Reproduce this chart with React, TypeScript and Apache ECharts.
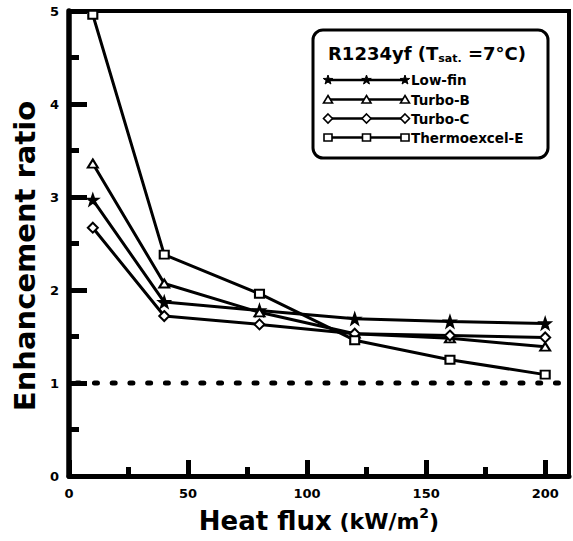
import React, { useEffect, useRef } from 'react';
import * as echarts from 'echarts';

// ---------- data ----------
const heatFlux = [10, 40, 80, 120, 160, 200];
const lowFin = [2.97, 1.87, 1.78, 1.69, 1.66, 1.64];
const turboB = [3.36, 2.07, 1.76, 1.53, 1.48, 1.39];
const turboC = [2.67, 1.72, 1.63, 1.53, 1.51, 1.49];
const thermoexcelE = [4.96, 2.38, 1.96, 1.46, 1.25, 1.09];
const seriesNames = ['Low-fin', 'Turbo-B', 'Turbo-C', 'Thermoexcel-E'];
const xTickValues = [0, 50, 100, 150, 200];
const xMinorTickValues = [25, 75, 125, 175];
const referenceRatio = 1;
const xRange = [0, 210];
const yRange = [0, 5];

const FONT = "'DejaVu Sans', sans-serif";

function starPoints(cx: number, cy: number, R: number, r: number): number[][] {
  const pts: number[][] = [];
  for (let i = 0; i < 10; i++) {
    const a = -Math.PI / 2 + (i * Math.PI) / 5;
    const rad = i % 2 === 0 ? R : r;
    pts.push([cx + rad * Math.cos(a), cy + rad * Math.sin(a)]);
  }
  return pts;
}

const starPath =
  'path://' +
  starPoints(10, 10, 10, 4.0)
    .map((p, i) => (i ? 'L' : 'M') + p[0].toFixed(2) + ',' + p[1].toFixed(2))
    .join(' ') +
  ' Z';

const symbolFor = ['star', 'triangle', 'diamond', 'rect'];

function legendSymbol(kind: string, x: number, y: number): any {
  if (kind === 'star') {
    return {
      type: 'polygon',
      shape: { points: starPoints(x, y, 5, 2) },
      style: { fill: '#000', stroke: '#000', lineWidth: 1 },
      z: 12,
    };
  }
  if (kind === 'triangle') {
    return {
      type: 'polygon',
      shape: { points: [[x, y - 4], [x + 4.5, y + 3.5], [x - 4.5, y + 3.5]] },
      style: { fill: '#fff', stroke: '#000', lineWidth: 1.6 },
      z: 12,
    };
  }
  if (kind === 'diamond') {
    return {
      type: 'polygon',
      shape: { points: [[x, y - 4.5], [x + 4.5, y], [x, y + 4.5], [x - 4.5, y]] },
      style: { fill: '#fff', stroke: '#000', lineWidth: 1.6 },
      z: 12,
    };
  }
  return {
    type: 'rect',
    shape: { x: x - 4, y: y - 3.5, width: 8, height: 7 },
    style: { fill: '#fff', stroke: '#000', lineWidth: 1.6 },
    z: 12,
  };
}

function buildLegend(): any[] {
  const g: any[] = [];
  g.push({
    type: 'rect',
    shape: { x: 313, y: 30, width: 235, height: 128, r: 10 },
    style: { fill: '#fff', stroke: '#000', lineWidth: 3 },
    z: 10,
  });
  g.push({
    type: 'text',
    x: 328,
    y: 53,
    style: {
      text: '{a|R1234yf (T}{b|sat.}{a| =7°C)}',
      verticalAlign: 'middle',
      align: 'left',
      rich: {
        a: { fontSize: 18, fontWeight: 'bold', fontFamily: FONT, fill: '#000', lineHeight: 22 },
        b: { fontSize: 11, fontWeight: 'bold', fontFamily: FONT, fill: '#000', lineHeight: 16, verticalAlign: 'bottom' },
      },
    },
    z: 11,
  });
  const rowY = [80, 99.5, 118.5, 137.5];
  const xs = [328, 366.5, 405];
  seriesNames.forEach((name, i) => {
    const y = rowY[i];
    g.push({
      type: 'line',
      shape: { x1: xs[0], y1: y, x2: xs[2], y2: y },
      style: { stroke: '#000', lineWidth: 2.5 },
      z: 11,
    });
    xs.forEach((x) => g.push(legendSymbol(symbolFor[i], x, y)));
    g.push({
      type: 'text',
      x: 411,
      y: y,
      style: {
        text: name,
        fontSize: 13.5,
        fontWeight: 'bold',
        fontFamily: FONT,
        fill: '#000',
        verticalAlign: 'middle',
        align: 'left',
      },
      z: 11,
    });
  });
  return g;
}

function makeSeries(name: string, values: number[], symbol: string, size: number | number[]): any {
  return {
    type: 'line',
    name,
    xAxisIndex: 0,
    yAxisIndex: 0,
    data: heatFlux.map((x, i) => [x, values[i]]),
    symbol,
    symbolSize: size,
    showAllSymbol: true,
    lineStyle: { color: '#000', width: 3 },
    itemStyle: { color: '#000', borderColor: '#000', borderWidth: 1.8 },
    z: 3,
  };
}

export default function App() {
  const ref = useRef<HTMLDivElement>(null);

  useEffect(() => {
    if (!ref.current) return;
    const chart = echarts.init(ref.current, null, { renderer: 'svg' });
    const axisFont = { color: '#000', fontSize: 13, fontWeight: 'bold' as const, fontFamily: FONT };
    chart.setOption({
      animation: false,
      backgroundColor: '#fff',
      grid: {
        left: 69,
        right: 4,
        top: 11,
        bottom: 65,
        show: true,
        borderColor: '#000',
        borderWidth: 4,
        backgroundColor: 'transparent',
      },
      xAxis: [
        {
          type: 'value',
          min: xRange[0],
          max: xRange[1],
          position: 'bottom',
          axisLine: { lineStyle: { color: '#000', width: 5 } },
          axisTick: {
            inside: true,
            length: 16,
            customValues: xTickValues,
            lineStyle: { color: '#000', width: 5 },
          },
          axisLabel: { ...axisFont, margin: 11, customValues: xTickValues },
          splitLine: { show: false },
          name: '{a|Heat flux}{b| (kW/m}{c|2}{b|)}',
          nameLocation: 'middle',
          nameGap: 30,
          nameTextStyle: {
            rich: {
              a: { fontSize: 26, fontWeight: 'bold', fontFamily: FONT, color: '#000', lineHeight: 30 },
              b: { fontSize: 22, fontWeight: 'bold', fontFamily: FONT, color: '#000', lineHeight: 30 },
              c: { fontSize: 14, fontWeight: 'bold', fontFamily: FONT, color: '#000', lineHeight: 20, verticalAlign: 'top' },
            },
          },
        },
        {
          type: 'value',
          min: xRange[0],
          max: xRange[1],
          position: 'bottom',
          axisLine: { show: false },
          axisTick: {
            inside: true,
            length: 9,
            customValues: xMinorTickValues,
            lineStyle: { color: '#000', width: 5 },
          },
          axisLabel: { show: false },
          splitLine: { show: false },
        },
      ],
      yAxis: {
        type: 'value',
        min: yRange[0],
        max: yRange[1],
        interval: 1,
        axisLine: { lineStyle: { color: '#000', width: 5.5 } },
        axisTick: { inside: true, length: 18, lineStyle: { color: '#000', width: 5 } },
        minorTick: { show: true, splitNumber: 2, length: 10, lineStyle: { color: '#000', width: 5 } },
        axisLabel: { ...axisFont, margin: 10 },
        splitLine: { show: false },
        minorSplitLine: { show: false },
        name: 'Enhancement ratio',
        nameLocation: 'middle',
        nameGap: 27,
        nameTextStyle: {
          fontSize: 29,
          fontWeight: 'bold',
          fontFamily: FONT,
          color: '#000',
          padding: [0, 25, 0, 0],
        },
      },
      series: [
        {
          type: 'line',
          name: 'reference',
          data: [[xRange[0], referenceRatio], [xRange[1], referenceRatio]],
          symbol: 'none',
          lineStyle: { color: '#000', width: 5, type: [3, 14.73], dashOffset: 10, cap: 'round' },
          z: 2,
          silent: true,
        },
        makeSeries(seriesNames[0], lowFin, starPath, 11),
        makeSeries(seriesNames[1], turboB, 'emptyTriangle', [10, 8]),
        makeSeries(seriesNames[2], turboC, 'emptyDiamond', [10, 10]),
        makeSeries(seriesNames[3], thermoexcelE, 'emptyRect', [9, 8]),
      ],
      graphic: buildLegend(),
    });
    return () => chart.dispose();
  }, []);

  return (
    <div
      ref={ref}
      style={{ position: 'fixed', left: 0, top: 0, width: 573, height: 541, background: '#fff' }}
    />
  );
}
